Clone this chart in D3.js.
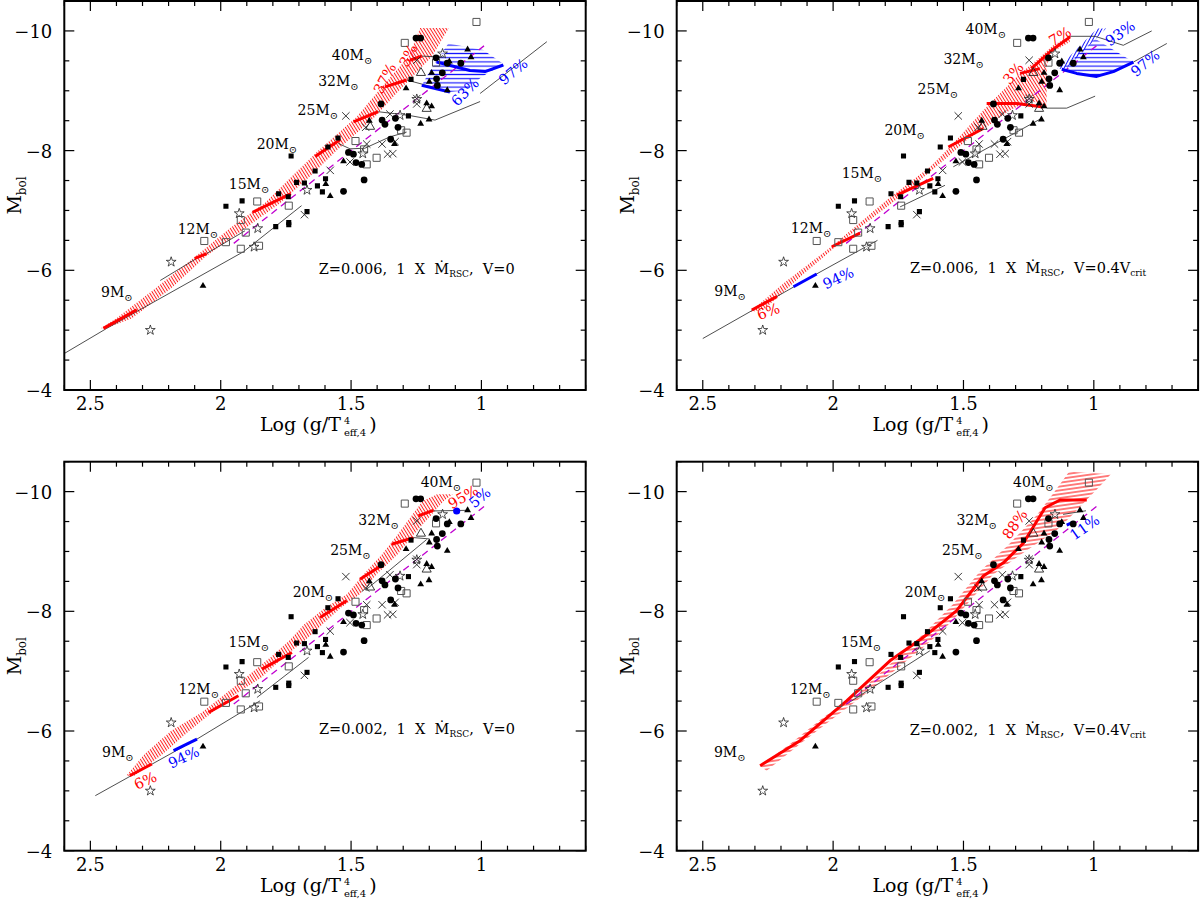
<!DOCTYPE html>
<html><head><meta charset="utf-8">
<script src="https://cdn.jsdelivr.net/npm/d3@7"></script>
<style>body{margin:0;background:#fff}svg{display:block}text{font-family:"DejaVu Serif",serif;fill:#000}</style>
</head><body><svg id="c" width="1200" height="900"></svg>
<script>
// ---------- observations (same in all panels) : [log(g/Teff^4), Mbol]
const obsFilledSquare=[[1.730,-7.91],[1.980,-7.07],[1.918,-7.16],[1.778,-7.28],[1.741,-7.23],[1.789,-6.73],[1.739,-6.76],[1.739,-6.80],[1.709,-7.47],[1.679,-7.46],[1.638,-7.66],[1.598,-7.53],[1.629,-7.41],[1.610,-7.31],[1.669,-6.98],[1.589,-8.06],[1.550,-8.21],[1.280,-8.58],[1.270,-9.19]];
const obsFilledCircle=[[1.251,-9.88],[1.233,-9.88],[1.174,-9.55],[1.131,-9.46],[1.079,-9.46],[1.150,-9.30],[1.172,-9.20],[1.169,-9.09],[1.385,-8.78],[1.381,-8.51],[1.370,-8.44],[1.330,-8.54],[1.320,-8.39],[1.348,-8.19],[1.510,-7.97],[1.491,-7.94],[1.481,-7.80],[1.459,-7.77],[1.450,-7.51],[1.529,-7.32]];
const obsFilledTriangle=[[2.068,-5.74],[1.580,-7.24],[1.597,-7.44],[1.529,-7.82],[1.430,-8.50],[1.333,-8.11],[1.233,-8.45],[1.201,-8.52],[1.289,-9.04],[1.210,-8.79],[1.191,-8.74],[1.200,-9.15],[1.191,-9.30],[1.053,-9.69],[1.040,-9.56],[1.131,-9.01],[1.123,-9.49]];
const obsCross=[[1.520,-8.58],[1.679,-6.93],[1.580,-7.67],[1.440,-8.11],[1.381,-8.11],[1.360,-7.94],[1.340,-7.95],[1.351,-8.61],[1.444,-8.39],[1.248,-8.87],[1.248,-8.78],[1.248,-9.51],[1.504,-7.81],[1.331,-8.15]];
const obsStar=[[2.190,-6.14],[2.270,-5.00],[1.929,-6.95],[1.858,-6.70],[1.872,-6.39],[1.669,-7.34],[1.149,-9.62],[1.248,-8.86],[1.312,-8.59],[1.455,-7.95]];
const obsOpenSquare=[[1.019,-10.15],[1.294,-9.80],[1.174,-9.47],[2.063,-6.49],[1.980,-6.47],[1.923,-6.36],[1.904,-6.63],[1.923,-6.84],[1.860,-7.15],[1.739,-7.08],[1.853,-6.41],[1.483,-8.16],[1.402,-7.88],[1.440,-7.77],[1.287,-8.30],[1.308,-8.34],[1.450,-8.02]];
const obsOpenTriangle=[[1.232,-9.30],[1.210,-8.70],[1.427,-8.40]];
const dashedLine=[[1.95,-6.45],[0.99,-9.75]];

// ---------- axes
const xMajor=[2.5,2,1.5,1];
const xMajorLabels=["2.5","2","1.5","1"];
const yMajor=[-10,-8,-6,-4];
const yMajorLabels=["\u221210","\u22128","\u22126","\u22124"];
const massNames=["9","12","15","20","25","32","40"];

// ---------- panel TL: Z=0.006, V=0
const tlMassPos=[[2.459,-5.56],[2.165,-6.61],[1.969,-7.36],[1.862,-8.03],[1.705,-8.59],[1.626,-9.08],[1.574,-9.51]];
const tlBandC=[[2.45,-5.03],[2.37,-5.20],[2.22,-5.70],[2.075,-6.24],[1.93,-6.72],[1.80,-7.13],[1.69,-7.58],[1.59,-8.0],[1.444,-8.56],[1.335,-9.10],[1.235,-9.57],[1.18,-10.05]];
const tlBandHW=[0.01,0.03,0.03,0.02,0.03,0.03,0.035,0.035,0.035,0.04,0.045,0.055];
const tlThick=[[[2.45,-5.03],[2.322,-5.34]],[[2.099,-6.20],[2.054,-6.28]],[[1.878,-6.97],[1.731,-7.28]],[[1.638,-7.90],[1.542,-8.18]],[[1.491,-8.48],[1.396,-8.65]],[[1.370,-9.065],[1.287,-9.18]],[[1.274,-9.51],[1.229,-9.58]]];
const tlTracks=[[[2.6,-4.61],[2.437,-5.03],[1.913,-6.31],[1.69,-7.08]],[[2.232,-5.83],[2.092,-6.20]],[[2.054,-6.28],[1.907,-6.66]],[[1.549,-8.12],[1.504,-8.03],[1.447,-8.04],[1.351,-8.23],[1.287,-8.31]],[[1.396,-8.65],[1.28,-8.59],[1.178,-8.51],[1.005,-8.82]],[[1.005,-8.955],[0.749,-9.82]],[[1.287,-9.18],[1.21,-9.09],[1.17,-9.05]],[[1.229,-9.58],[1.146,-9.56]]];
const tlBlueBands=[[[1.127,-9.79],[0.993,-9.68],[0.91,-9.43],[0.967,-9.32],[1.005,-9.21],[1.057,-9.01],[1.121,-8.98],[1.229,-9.09],[1.197,-9.34],[1.159,-9.59]]];
const tlBlueDiag=[];
const tlBlueThick=[[[1.229,-9.09],[1.121,-8.98]],[[1.172,-9.48],[1.044,-9.34],[0.986,-9.32],[0.916,-9.43]]];
const tlPct=[["37%","red",1.370,-9.205,-63],["3%","red",1.28,-9.59,-63],["63%","blue",1.063,-8.98,-45],["97%","blue",0.878,-9.32,-40]];

// ---------- panel TR: Z=0.006, V=0.4Vcrit
const trMassPos=[[2.456,-5.57],[2.162,-6.63],[1.967,-7.55],[1.803,-8.26],[1.676,-8.95],[1.577,-9.45],[1.492,-9.955]];
const trBandPoly=[[2.318,-5.309],[2.190,-5.782],[1.999,-6.422],[1.794,-7.173],[1.628,-7.730],[1.539,-8.119],[1.424,-8.676],[1.360,-8.954],[1.283,-9.288],[1.220,-9.510],[1.156,-9.761],[1.092,-9.911],[1.092,-9.816],[1.169,-9.622],[1.181,-9.399],[1.181,-8.731],[1.245,-8.842],[1.322,-8.676],[1.411,-8.397],[1.488,-8.175],[1.590,-7.785],[1.743,-7.229],[1.960,-6.505],[2.126,-5.893],[2.267,-5.337]];
const trThick=[[[2.312,-5.337],[2.216,-5.56]],[[2.005,-6.394],[1.897,-6.62]],[[1.756,-7.256],[1.616,-7.535]],[[1.558,-8.06],[1.424,-8.37]],[[1.411,-8.787],[1.296,-8.787],[1.194,-8.73]],[[1.283,-9.29],[1.207,-9.37]],[[1.24,-9.37],[1.16,-9.68],[1.091,-9.90]]];
const trTracks=[[[2.50,-4.86],[2.063,-5.94],[1.83,-6.50]],[[1.743,-7.06],[1.571,-7.42]],[[1.539,-7.73],[1.20,-8.54]],[[1.181,-8.71],[1.104,-8.71],[0.995,-8.91]],[[1.098,-9.91],[0.995,-9.91],[0.887,-9.76],[0.778,-10.0]],[[0.848,-9.48],[0.72,-9.79]]];
const trBlueBands=[[[1.123,-9.36],[0.995,-9.87],[0.848,-9.48],[0.925,-9.32],[0.989,-9.24],[1.066,-9.29]]];
const trBlueDiag=[[[1.140,-9.37],[0.987,-10.04],[0.953,-10.04],[1.106,-9.37]]];
const trBlueThick=[[[2.152,-5.726],[2.063,-5.938]],[[1.123,-9.36],[1.066,-9.29],[0.989,-9.24],[0.925,-9.32],[0.848,-9.48]]];
const trPct=[["6%","red",2.248,-5.31,-20],["94%","blue",1.98,-5.87,-25],["3%","red",1.309,-9.29,-50],["7%","red",1.130,-9.91,-30],["93%","blue",0.899,-9.96,-35],["97%","blue",0.803,-9.46,-40]];

// ---------- panel BL: Z=0.002, V=0
const blMassPos=[[2.455,-5.56],[2.162,-6.62],[1.970,-7.40],[1.724,-8.24],[1.580,-8.94],[1.472,-9.44],[1.233,-10.08]];
const blBandC=[[2.347,-5.253],[2.257,-5.615],[2.155,-6.004],[2.053,-6.310],[1.964,-6.616],[1.874,-6.895],[1.785,-7.229],[1.708,-7.507],[1.644,-7.785],[1.568,-8.063],[1.491,-8.286],[1.427,-8.620],[1.351,-8.954],[1.300,-9.232],[1.248,-9.510],[1.185,-9.844],[1.140,-9.955]];
const blBandHW=[0.015,0.035,0.035,0.02,0.02,0.03,0.025,0.03,0.035,0.03,0.025,0.025,0.03,0.03,0.035,0.04,0.03];
const blThick=[[[2.349,-5.253],[2.264,-5.448]],[[2.047,-6.31],[1.932,-6.59]],[[1.842,-7.034],[1.727,-7.312]],[[1.619,-7.896],[1.517,-8.175]],[[1.466,-8.536],[1.376,-8.787]],[[1.344,-9.121],[1.261,-9.232]],[[1.242,-9.594],[1.185,-9.688]]];
const blTracks=[[[2.481,-4.92],[2.091,-5.865],[1.849,-6.505]],[[1.861,-6.56],[1.663,-7.23]],[[1.44,-8.37],[1.21,-9.20]],[[1.185,-9.677],[1.05,-9.688]],[[1.261,-9.232],[1.20,-9.21]]];
const blBlueThick=[[[2.181,-5.671],[2.091,-5.865]]];
const blBlueDot=[[1.095,-9.677]];
const blPct=[["95%","red",1.07,-9.91,-30],["5%","blue",1.006,-9.90,-40],["6%","red",2.289,-5.17,-25],["94%","blue",2.142,-5.56,-25]];

// ---------- panel BR: Z=0.002, V=0.4Vcrit
const brMassPos=[[2.457,-5.56],[2.165,-6.62],[1.971,-7.40],[1.725,-8.24],[1.582,-8.94],[1.527,-9.44],[1.310,-10.08]];
const brBandPoly=[[2.280,-5.420],[2.165,-5.782],[2.038,-6.227],[1.910,-6.616],[1.782,-7.117],[1.655,-7.618],[1.540,-8.119],[1.437,-8.665],[1.330,-9.10],[1.220,-9.60],[1.150,-10.00],[1.095,-10.33],[0.935,-10.29],[0.975,-10.10],[1.015,-9.92],[1.080,-9.62],[1.142,-9.36],[1.283,-8.94],[1.387,-8.61],[1.460,-8.25],[1.520,-7.95],[1.580,-7.68],[1.655,-7.396],[1.782,-6.950],[1.910,-6.505],[2.012,-6.171],[2.127,-5.782],[2.255,-5.337]];
const brThick=[[[2.280,-5.420],[2.127,-5.838],[1.948,-6.505],[1.782,-7.173],[1.655,-7.563],[1.527,-8.008],[1.424,-8.59],[1.347,-8.81],[1.270,-9.14],[1.187,-9.73],[1.130,-9.86],[1.027,-9.86]]];
const brTracks=[[[1.948,-6.45],[1.629,-7.34]],[[1.118,-9.62],[1.03,-9.68]]];
const brBlueThick=[[[1.104,-9.44],[1.079,-9.49]]];
const brPct=[["88%","red",1.303,-9.455,-55],["11%","blue",1.035,-9.40,-35]];

const annotZ=["0.006","0.006","0.002","0.002"];
const annotV=["0","0.4V","0","0.4V"];
const annotPos=[[1.624,-5.94],[1.705,-5.95],[1.623,-5.95],[1.706,-5.94]];

// ---------- build
const PW=521.4, PH=389;
const origins=[[64.3,1],[676.7,1],[64.3,461.7],[676.7,461.7]];
const xs=d3.scaleLinear().domain([2.6,0.6]).range([0,PW]);
const ys=d3.scaleLinear().domain([-4,-10.5]).range([PH,0]);
const svg=d3.select("#c");
const defs=svg.append("defs");
defs.append("clipPath").attr("id","clip").append("rect").attr("width",PW).attr("height",PH);
function hatch(id,color,spacing,width,angle){
  const p=defs.append("pattern").attr("id",id).attr("patternUnits","userSpaceOnUse").attr("width",10).attr("height",spacing).attr("patternTransform",`rotate(${angle})`);
  p.append("line").attr("x1",0).attr("x2",10).attr("y1",spacing/2).attr("y2",spacing/2).attr("stroke",color).attr("stroke-width",width);
}
hatch("hatchR","#ff2020",2.7,1.0,58);
hatch("hatchR2","#ff2a2a",3.8,1.2,-8);
hatch("hatchB","#1515ff",4.2,1.2,0);
hatch("hatchBd","#1515ff",3.0,1.0,-62);

function bandFrom(c,hw){const L=c.map((p,i)=>[p[0]+hw[i],p[1]]);const R=c.map((p,i)=>[p[0]-hw[i],p[1]]).reverse();return L.concat(R);}
const line=d3.line().x(d=>xs(d[0])).y(d=>ys(d[1]));

const panelsCfg=[
 {mass:tlMassPos,bands:[bandFrom(tlBandC,tlBandHW)],pat:"hatchR",thick:tlThick,tracks:tlTracks,blueBands:tlBlueBands,blueDiag:tlBlueDiag,blueThick:tlBlueThick,blueDots:[],pct:tlPct},
 {mass:trMassPos,bands:[trBandPoly],pat:"hatchR",thick:trThick,tracks:trTracks,blueBands:trBlueBands,blueDiag:trBlueDiag,blueThick:trBlueThick,blueDots:[],pct:trPct},
 {mass:blMassPos,bands:[bandFrom(blBandC,blBandHW)],pat:"hatchR",thick:blThick,tracks:blTracks,blueBands:[],blueDiag:[],blueThick:blBlueThick,blueDots:blBlueDot,pct:blPct},
 {mass:brMassPos,bands:[brBandPoly],pat:"hatchR2",thick:brThick,tracks:brTracks,blueBands:[],blueDiag:[],blueThick:brBlueThick,blueDots:[],pct:brPct}
];

const sym=(t,s)=>d3.symbol().type(t).size(s)();
const crossPath=(s)=>`M${-s},${-s}L${s},${s}M${-s},${s}L${s},${-s}`;

panelsCfg.forEach((cfg,pi)=>{
  const [ox,oy]=origins[pi];
  const g=svg.append("g").attr("transform",`translate(${ox},${oy})`);
  const c=g.append("g").attr("clip-path","url(#clip)");
  cfg.bands.forEach(b=>c.append("path").attr("d",line(b)+"Z").attr("fill",`url(#${cfg.pat})`).attr("stroke","none"));
  cfg.blueBands.forEach(b=>c.append("path").attr("d",line(b)+"Z").attr("fill","url(#hatchB)").attr("stroke","none"));
  cfg.blueDiag.forEach(b=>c.append("path").attr("d",line(b)+"Z").attr("fill","url(#hatchBd)").attr("stroke","none"));
  cfg.tracks.forEach(t=>c.append("path").attr("d",line(t)).attr("fill","none").attr("stroke","#222").attr("stroke-width",0.8));
  c.append("path").attr("d",line(dashedLine)).attr("fill","none").attr("stroke","#c000d0").attr("stroke-width",1.3).attr("stroke-dasharray","7,5");
  cfg.thick.forEach(t=>c.append("path").attr("d",line(t)).attr("fill","none").attr("stroke","#f00").attr("stroke-width",3).attr("stroke-linejoin","round"));
  cfg.blueThick.forEach(t=>c.append("path").attr("d",line(t)).attr("fill","none").attr("stroke","#00f").attr("stroke-width",3).attr("stroke-linejoin","round"));
  // observations
  const tr=d=>`translate(${xs(d[0])},${ys(d[1])})`;
  c.selectAll(null).data(obsOpenSquare).join("path").attr("transform",tr).attr("d",sym(d3.symbolSquare,50)).attr("fill","none").attr("stroke","#555").attr("stroke-width",1);
  c.selectAll(null).data(obsOpenTriangle).join("path").attr("transform",tr).attr("d",sym(d3.symbolTriangle,36)).attr("fill","none").attr("stroke","#222").attr("stroke-width",0.9);
  c.selectAll(null).data(obsStar).join("path").attr("transform",tr).attr("d",sym(d3.symbolStar,30)).attr("fill","#fff").attr("fill-opacity",0.6).attr("stroke","#222").attr("stroke-width",0.8);
  c.selectAll(null).data(obsCross).join("path").attr("transform",tr).attr("d",crossPath(3.7)).attr("fill","none").attr("stroke","#222").attr("stroke-width",0.9);
  c.selectAll(null).data(obsFilledSquare).join("path").attr("transform",tr).attr("d",sym(d3.symbolSquare,26)).attr("fill","#000");
  c.selectAll(null).data(obsFilledTriangle).join("path").attr("transform",tr).attr("d",sym(d3.symbolTriangle,20)).attr("fill","#000");
  c.selectAll(null).data(obsFilledCircle).join("path").attr("transform",tr).attr("d",sym(d3.symbolCircle,36)).attr("fill","#000");
  c.selectAll(null).data(cfg.blueDots).join("path").attr("transform",tr).attr("d",sym(d3.symbolCircle,40)).attr("fill","#00f");
  // mass labels
  cfg.mass.forEach((p,i)=>{
    const t=g.append("text").attr("x",xs(p[0])).attr("y",ys(p[1])).attr("font-size",14);
    t.append("tspan").text(massNames[i]+"M");
    t.append("tspan").attr("font-size",10).attr("dy",4).text("\u2299");
  });
  // pct labels
  cfg.pct.forEach(p=>{
    g.append("text").attr("transform",`translate(${xs(p[2])},${ys(p[3])}) rotate(${p[4]})`).attr("text-anchor","middle").attr("dominant-baseline","central").attr("font-size",14.5).style("fill",p[1]==="red"?"#f00":"#00f").text(p[0]);
  });
  // annotation
  const a=g.append("text").attr("x",xs(annotPos[pi][0])).attr("y",ys(annotPos[pi][1])).attr("font-size",14.5).attr("xml:space","preserve").style("white-space","pre");
  a.append("tspan").text(`Z=${annotZ[pi]},  1  X  \u1E40`);
  a.append("tspan").attr("font-size",9).attr("dy",3).text("RSC");
  a.append("tspan").attr("dy",-3).text(`,  V=${annotV[pi]}`);
  if(annotV[pi]!=="0"){a.append("tspan").attr("font-size",9).attr("dy",3).text("crit");}
  // frame
  g.append("rect").attr("width",PW).attr("height",PH).attr("fill","none").attr("stroke","#000").attr("stroke-width",2);
  // ticks
  const tk=g.append("g").attr("stroke","#000").attr("stroke-width",1.2);
  d3.range(26,5,-1).map(v=>v/10).forEach(v=>{
    const major=xMajor.some(m=>Math.abs(m-v)<1e-6);const L=major?10:5;const x=xs(v);
    tk.append("line").attr("x1",x).attr("x2",x).attr("y1",PH).attr("y2",PH-L);
    tk.append("line").attr("x1",x).attr("x2",x).attr("y1",0).attr("y2",L);
  });
  d3.range(-40,-106,-5).map(v=>v/10).forEach(v=>{
    const major=yMajor.some(m=>Math.abs(m-v)<1e-6);const L=major?10:5;const y=ys(v);
    tk.append("line").attr("x1",0).attr("x2",L).attr("y1",y).attr("y2",y);
    tk.append("line").attr("x1",PW).attr("x2",PW-L).attr("y1",y).attr("y2",y);
  });
  xMajor.forEach((v,i)=>g.append("text").attr("x",xs(v)).attr("y",PH+20).attr("text-anchor","middle").attr("font-size",18).text(xMajorLabels[i]));
  yMajor.forEach((v,i)=>g.append("text").attr("x",-12).attr("y",ys(v)+7).attr("text-anchor","end").attr("font-size",18).text(yMajorLabels[i]));
  // x axis title: main text + separate super/subscript
  const base=PH+41, x0=PW/2-65;
  const main=g.append("text").attr("x",x0).attr("y",base).attr("font-size",19).text("Log (g/T");
  const mw=main.node().getComputedTextLength();
  g.append("text").attr("x",x0+mw+3).attr("y",base-7).attr("font-size",9.5).text("4");
  const sub=g.append("text").attr("x",x0+mw+3).attr("y",base+5).attr("font-size",10).text("eff,4");
  const sw=sub.node().getComputedTextLength();
  g.append("text").attr("x",x0+mw+sw+6).attr("y",base).attr("font-size",19).text(")");
  const yl=g.append("text").attr("transform",`translate(-43,${PH/2}) rotate(-90)`).attr("text-anchor","middle").attr("font-size",19);
  yl.append("tspan").text("M");
  yl.append("tspan").attr("font-size",12).attr("dy",5).text("bol");
});
</script></body></html>
